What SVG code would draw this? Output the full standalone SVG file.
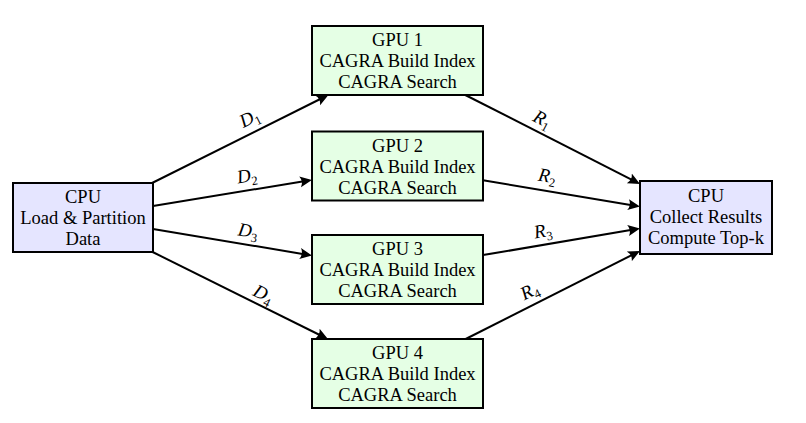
<svg xmlns="http://www.w3.org/2000/svg" width="806" height="423" viewBox="0 0 806 423">
<style>
.box{stroke:#000;stroke-width:2}
.cpu{fill:#E5E5FF}
.gpu{fill:#E5FFE5}
.t{font-family:"Liberation Serif","Times New Roman",serif;font-size:18.5px;text-anchor:middle;fill:#000}
.m{font-family:"Liberation Serif","Times New Roman",serif;font-size:19px;font-style:italic;text-anchor:middle;fill:#000}
.s{font-size:12.5px;font-style:normal}
.e{fill:none;stroke:#000;stroke-width:2;marker-end:url(#ah)}
</style>
<defs>
<marker id="ah" markerUnits="userSpaceOnUse" markerWidth="16" markerHeight="14" viewBox="0 -7 16 14" refX="8.5" refY="0" orient="auto">
<path d="M12,0 L0,-5.5 Q3.5,0 0,5.5 Z" fill="#000"/>
</marker>
</defs>
<rect width="806" height="423" fill="#fff"/>
<g id="connectors">
<path class="e" d="M152.1,183 L325.3,96.5"/>
<path class="e" d="M153,206 L308.5,180.5"/>
<path class="e" d="M153,229.1 L308.5,254.9"/>
<path class="e" d="M152.6,252 L324.8,337.5"/>
<path class="e" d="M465.3,95 L636.9,182.3"/>
<path class="e" d="M483,180.3 L636.5,206"/>
<path class="e" d="M483,255.1 L636.5,229.1"/>
<path class="e" d="M465.7,339 L636.9,252.5"/>
<g transform="translate(250,119) rotate(-26.5)"><text class="m" y="5">D<tspan class="s" dy="4">1</tspan></text></g>
<g transform="translate(247,177) rotate(-9.3)"><text class="m" y="5">D<tspan class="s" dy="4">2</tspan></text></g>
<g transform="translate(248,232) rotate(9.4)"><text class="m" y="5">D<tspan class="s" dy="4">3</tspan></text></g>
<g transform="translate(263,295) rotate(26.4)"><text class="m" y="5">D<tspan class="s" dy="4">4</tspan></text></g>
<g transform="translate(542,120) rotate(27)"><text class="m" y="5">R<tspan class="s" dy="4">1</tspan></text></g>
<g transform="translate(547,177) rotate(9.5)"><text class="m" y="5">R<tspan class="s" dy="4">2</tspan></text></g>
<g transform="translate(543,232) rotate(-9.6)"><text class="m" y="5">R<tspan class="s" dy="4">3</tspan></text></g>
<g transform="translate(530,292) rotate(-26.8)"><text class="m" y="5">R<tspan class="s" dy="4">4</tspan></text></g>
</g>
<g id="cpu-in">
<rect class="box cpu" x="13" y="183" width="140" height="69"/>
<text class="t" x="83" y="203">CPU</text>
<text class="t" x="83" y="224">Load &amp; Partition</text>
<text class="t" x="83" y="245">Data</text>
</g>
<g id="gpu1">
<rect class="box gpu" x="312" y="26" width="171" height="69"/>
<text class="t" x="397.5" y="46">GPU 1</text>
<text class="t" x="397.5" y="67">CAGRA Build Index</text>
<text class="t" x="397.5" y="88">CAGRA Search</text>
</g>
<g id="gpu2">
<rect class="box gpu" x="312" y="131.5" width="171" height="69"/>
<text class="t" x="397.5" y="151.5">GPU 2</text>
<text class="t" x="397.5" y="172.5">CAGRA Build Index</text>
<text class="t" x="397.5" y="193.5">CAGRA Search</text>
</g>
<g id="gpu3">
<rect class="box gpu" x="312" y="235" width="171" height="69"/>
<text class="t" x="397.5" y="255">GPU 3</text>
<text class="t" x="397.5" y="276">CAGRA Build Index</text>
<text class="t" x="397.5" y="297">CAGRA Search</text>
</g>
<g id="gpu4">
<rect class="box gpu" x="312" y="339" width="171" height="69"/>
<text class="t" x="397.5" y="359">GPU 4</text>
<text class="t" x="397.5" y="380">CAGRA Build Index</text>
<text class="t" x="397.5" y="401">CAGRA Search</text>
</g>
<g id="cpu-out">
<rect class="box cpu" x="640" y="181" width="132" height="73"/>
<text class="t" x="706" y="202">CPU</text>
<text class="t" x="706" y="223">Collect Results</text>
<text class="t" x="706" y="244">Compute Top-k</text>
</g>
</svg>
